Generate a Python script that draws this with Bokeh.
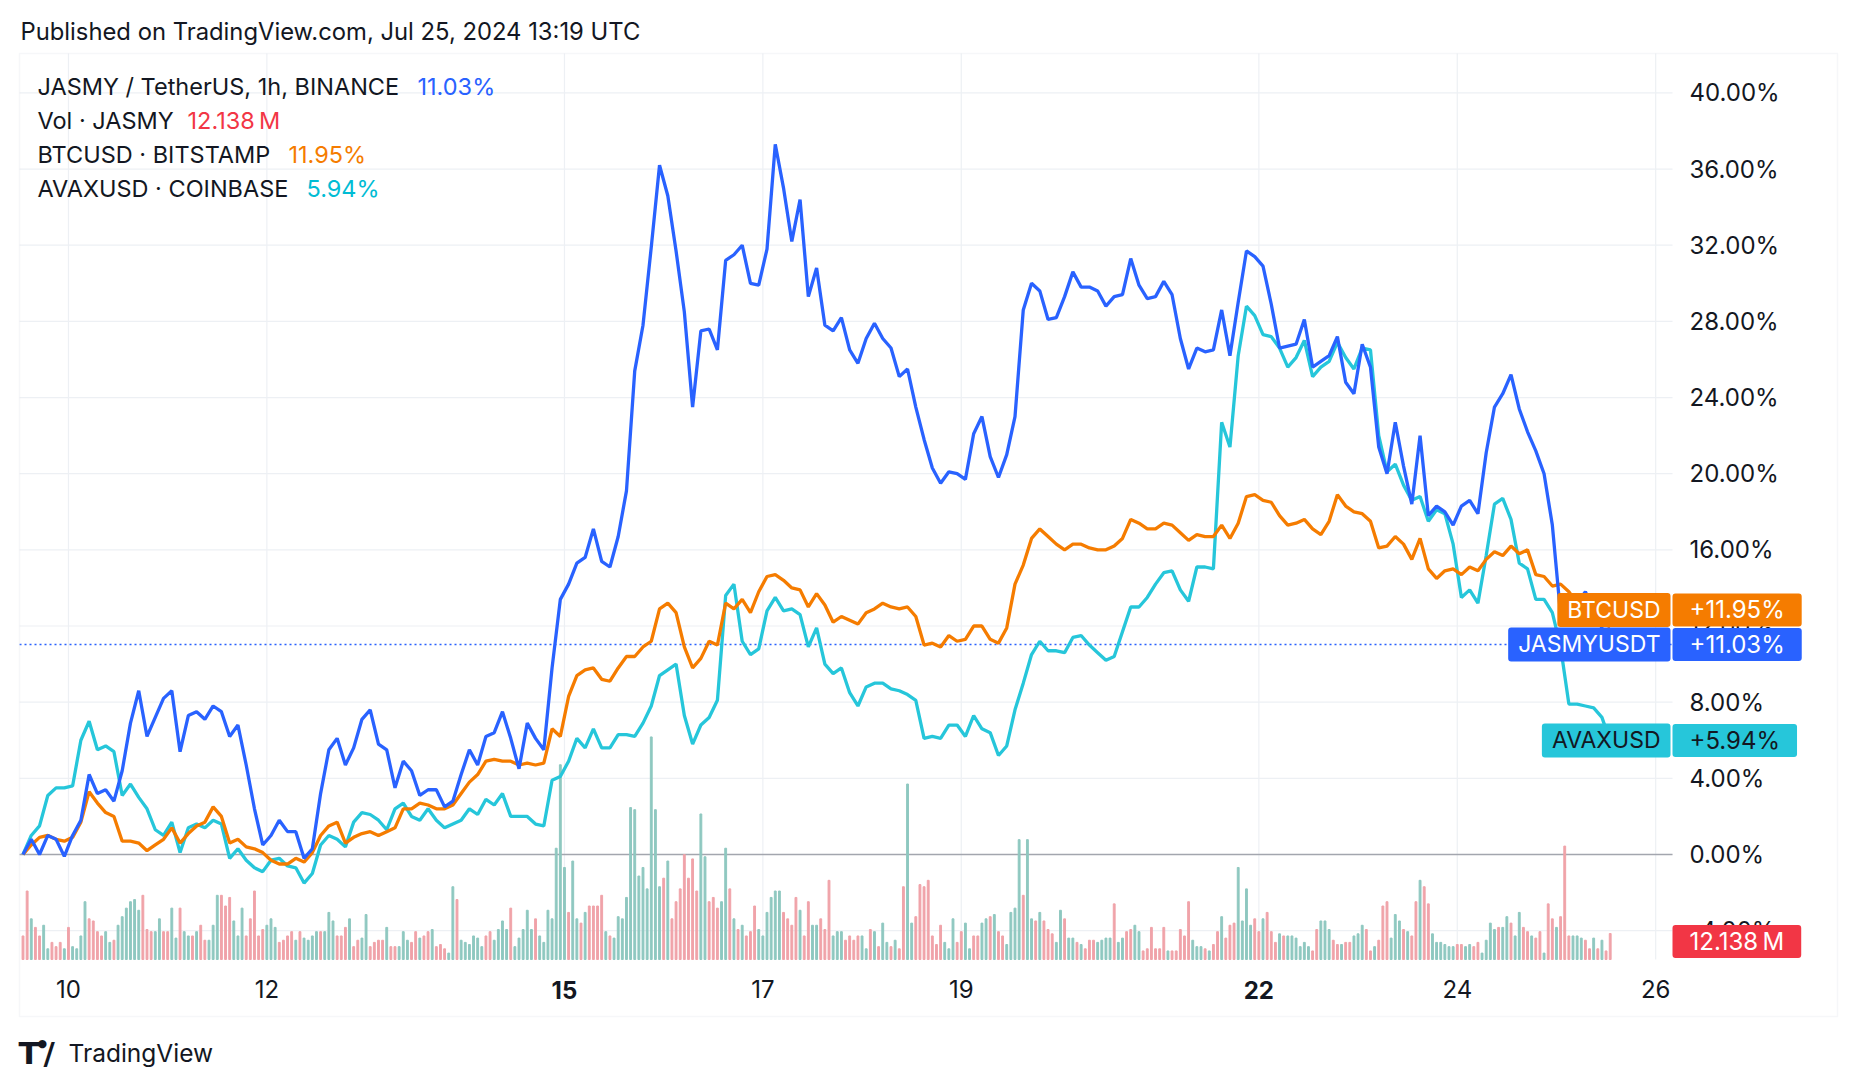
import pandas as pd
from bokeh.plotting import figure
from bokeh.models import (Range1d, FixedTicker, PrintfTickFormatter, Label, LinearAxis,
                          BoxAnnotation, CustomJSTickFormatter)
from bokeh.embed import file_html
from bokeh.resources import INLINE

# ---------------- data (percent change vs first bar, 2-hour samples from Jul 9 13:00 UTC) -------------
START = "2024-07-09 13:00"
jasmy = [0, 0.8, 0.0, 1.0, 0.8, -0.1, 1.0, 1.8, 4.2, 3.2, 3.4, 2.8, 4.4, 6.9, 8.6, 6.2, 7.2, 8.2, 8.6, 5.4,
         7.3, 7.5, 7.1, 7.8, 7.5, 6.2, 6.8, 4.7, 2.4, 0.5, 1.0, 1.8, 1.2, 1.2, -0.2, 0.3, 3.2, 5.5, 6.1, 4.7,
         5.6, 7.1, 7.6, 5.8, 5.5, 3.5, 4.9, 4.4, 3.1, 3.4, 3.4, 2.5, 2.8, 4.2, 5.5, 4.7, 6.2, 6.4, 7.5, 6.1,
         4.5, 6.9, 6.1, 5.5, 9.8, 13.4, 14.2, 15.3, 15.6, 17.1, 15.4, 15.1, 16.7, 19.1, 25.4, 27.8, 31.9, 36.2, 34.6, 31.7,
         28.5, 23.5, 27.5, 27.6, 26.5, 31.2, 31.5, 32.0, 30.0, 29.9, 31.8, 37.3, 35.0, 32.2, 34.4, 29.3, 30.8, 27.8, 27.5, 28.2,
         26.5, 25.8, 27.1, 27.9, 27.1, 26.6, 25.1, 25.5, 23.5, 21.8, 20.3, 19.5, 20.1, 20.0, 19.7, 22.1, 23.0, 20.9, 19.8, 21.0,
         23.0, 28.6, 30.0, 29.6, 28.1, 28.2, 29.3, 30.6, 29.8, 29.8, 29.6, 28.8, 29.3, 29.4, 31.3, 29.9, 29.2, 29.3, 30.1, 29.4,
         27.1, 25.5, 26.6, 26.4, 26.5, 28.6, 26.2, 29.0, 31.7, 31.4, 30.9, 28.9, 26.6, 26.7, 26.8, 28.1, 25.6, 25.9, 26.2, 27.2,
         24.8, 24.2, 26.8, 25.6, 21.4, 20.0, 22.7, 20.4, 18.4, 22.0, 17.8, 18.3, 18.0, 17.3, 18.3, 18.6, 17.9, 21.1, 23.5, 24.2,
         25.2, 23.4, 22.2, 21.2, 20.0, 17.3, 12.6, 12.5, 13.2, 13.8, 12.8, 11.9, 11.03]
btc = [0, 0.5, 0.9, 1.0, 0.8, 0.7, 0.9, 1.7, 3.3, 2.7, 2.2, 2.0, 0.7, 0.7, 0.6, 0.2, 0.5, 0.8, 1.4, 0.6,
       1.1, 1.5, 1.7, 2.5, 2.0, 0.6, 0.8, 0.4, 0.3, 0.1, -0.3, -0.5, -0.5, -0.2, -0.4, 0.1, 1.0, 1.5, 1.7, 0.6,
       0.9, 1.1, 1.2, 1.0, 1.2, 1.4, 2.4, 2.4, 2.7, 2.6, 2.4, 2.4, 2.6, 3.2, 3.8, 4.2, 4.9, 5.0, 4.9, 4.9,
       4.7, 4.8, 4.7, 4.8, 6.6, 6.2, 8.3, 9.4, 9.7, 9.8, 9.2, 9.1, 9.8, 10.4, 10.4, 10.9, 11.2, 12.9, 13.2, 12.7,
       10.9, 9.8, 10.3, 11.2, 11.0, 13.2, 12.9, 13.4, 12.7, 13.8, 14.6, 14.7, 14.4, 14.0, 13.9, 13.0, 13.7, 13.1, 12.2, 12.5,
       12.3, 12.1, 12.7, 12.9, 13.2, 13.0, 12.9, 13.0, 12.5, 11.0, 11.1, 10.9, 11.5, 11.2, 11.3, 12.0, 12.0, 11.3, 11.1, 11.9,
       14.2, 15.2, 16.6, 17.1, 16.7, 16.3, 16.0, 16.3, 16.3, 16.1, 16.0, 16.0, 16.2, 16.6, 17.6, 17.4, 17.1, 17.1, 17.4, 17.3,
       16.9, 16.5, 16.8, 16.7, 16.7, 17.3, 16.6, 17.4, 18.8, 18.9, 18.6, 18.5, 17.8, 17.3, 17.4, 17.6, 17.1, 16.8, 17.5, 18.9,
       18.3, 18.0, 17.9, 17.5, 16.1, 16.2, 16.7, 16.3, 15.5, 16.6, 15.0, 14.5, 14.9, 15.0, 14.7, 15.1, 14.9, 15.5, 15.9, 15.7,
       16.2, 15.8, 16.0, 14.7, 14.6, 14.1, 14.2, 13.8, 13.2, 12.8, 12.4, 12.2, 11.95]
avax = [0, 1.0, 1.5, 3.1, 3.5, 3.5, 3.6, 6.0, 7.0, 5.5, 5.7, 5.4, 3.1, 3.7, 3.0, 2.4, 1.3, 1.0, 1.7, 0.1,
        1.4, 1.6, 1.4, 1.8, 1.6, -0.2, 0.3, -0.3, -0.7, -0.9, -0.3, -0.2, -0.6, -0.7, -1.5, -1.0, 0.5, 1.0, 0.8, 0.4,
        1.7, 2.2, 2.1, 1.8, 1.3, 2.4, 2.7, 2.0, 1.8, 2.4, 1.8, 1.4, 1.6, 1.8, 2.4, 2.1, 2.9, 2.6, 3.2, 2.0,
        2.0, 2.0, 1.6, 1.5, 3.9, 4.1, 4.9, 6.1, 5.6, 6.6, 5.6, 5.6, 6.3, 6.3, 6.2, 6.9, 7.8, 9.4, 9.7, 10.0,
        7.3, 5.8, 6.8, 7.2, 8.1, 13.6, 14.2, 11.2, 10.5, 10.8, 12.8, 13.5, 12.8, 12.9, 12.6, 10.9, 11.9, 10.0, 9.5, 9.8,
        8.5, 7.8, 8.8, 9.0, 9.0, 8.7, 8.6, 8.4, 8.1, 6.1, 6.2, 6.1, 6.8, 6.8, 6.2, 7.3, 6.6, 6.4, 5.2, 5.7,
        7.6, 9.0, 10.5, 11.2, 10.7, 10.7, 10.6, 11.4, 11.5, 11.0, 10.6, 10.2, 10.4, 11.7, 13.0, 13.0, 13.5, 14.2, 14.8, 14.9,
        13.9, 13.3, 15.1, 15.1, 15.0, 22.7, 21.4, 26.2, 28.8, 28.3, 27.3, 27.2, 26.6, 25.6, 26.1, 27.0, 25.1, 25.6, 25.9, 26.9,
        26.1, 25.5, 26.6, 26.5, 22.0, 20.1, 20.5, 19.4, 18.6, 18.8, 17.5, 18.1, 17.9, 16.3, 13.5, 13.9, 13.2, 15.7, 18.4, 18.7,
        17.6, 15.3, 15.0, 13.4, 13.4, 12.7, 10.9, 7.9, 7.9, 7.8, 7.7, 7.2, 5.94]

# hourly JASMY volume (millions) and candle direction (u = up, d = down)
vol_a = [11, 32, 19, 15, 11, 16, 5, 8, 6, 8, 5, 15, 6, 5, 11, 27, 19, 18, 13, 11,
         13, 8, 9, 16, 20, 24, 27, 28, 23, 30, 14, 13, 13, 19, 13, 13, 24, 10, 24, 13,
         11, 11, 13, 16, 9, 9, 16, 30, 30, 25, 29, 18, 11, 24, 11, 19, 32, 11, 14, 16,
         19, 15, 8, 9, 11, 13, 9, 13, 10]
vol_b = [9, 11, 13, 13, 13, 22, 18, 11, 11, 15, 19, 6, 9, 10, 21, 6, 8, 9, 9, 15,
         6, 6, 6, 13, 9, 8, 13, 10, 11, 13, 14, 6, 7, 5, 3, 34, 28, 9, 8, 7,
         11, 10, 6, 11, 13, 9, 14, 18, 14, 24, 6, 10, 14, 23, 14, 19, 11, 8, 23, 19,
         52, 91, 43, 22, 46]
vol_c = [19, 17, 22, 25, 25, 25, 30, 13, 11, 10, 20, 19, 29, 71, 70, 39, 43, 33, 104, 70,
         34, 38, 46, 19, 27, 33, 49, 38, 47, 32, 68, 48, 27, 29, 24, 27, 52, 33, 19, 14,
         16, 11, 13, 25, 14, 11, 22, 29, 32, 32, 22, 19, 16, 29, 23, 11, 27, 16, 16, 19,
         14, 37, 11, 13, 13, 9, 11, 9, 11, 11]
vol_d = [5, 14, 13, 6, 17, 8, 6, 9, 5, 34, 82, 17, 20, 35, 34, 37, 11, 7, 16, 8,
         5, 19, 8, 13, 17, 5, 11, 11, 17, 19, 20, 21, 13, 11, 7, 22, 24, 56, 30, 56,
         19, 18, 22, 18, 14, 12, 8, 23, 19, 10, 10, 8, 7, 5, 9, 9, 8, 9, 10, 10,
         26, 8, 10, 13, 14, 16, 13]
vol_e = [4, 5, 15, 5, 5, 15, 4, 4, 4, 14, 11, 27, 9, 6, 6, 5, 4, 7, 13, 20,
         10, 16, 17, 43, 18, 33, 16, 19, 13, 19, 22, 13, 8, 12, 11, 11, 11, 10, 6, 8,
         6, 4, 14, 18, 18, 14, 9, 7, 7, 8, 8, 11, 12, 16, 14, 4, 6, 9, 25, 27,
         10, 21, 18, 14, 13, 11, 27]
vol_f = [37, 34, 26, 12, 8, 8, 7, 6, 6, 7, 7, 6, 7, 6, 8, 3, 9, 17, 14, 15,
         15, 20, 17, 11, 22, 15, 13, 11, 10, 13, 3, 26, 19, 15, 20, 53, 11, 11, 11, 10,
         9, 5, 10, 5, 9, 4, 12.138]
vol_dir = ("ddudduuddd" "uduuuudddd" "uuduuuuuud" "dduudduudu" "ududduuudd" "duuudddddu" "uuddddudu"
           "uuuduuuddd" "udduuddddu" "dduuuddudd" "uddduuduuu" "uuudduuuud" "uuuuuduuuu" "uuudu"
           "ududdddudu" "uuuuuuuuuu" "ududdddddd" "uuddduudud" "uddduuuuuu" "ddddudduud" "dduuuddddu"
           "ududuududd" "uudddddddu" "uudduudduu" "dudduuuudu" "ududdduudu" "ududdduuuu" "duudduu"
           "dddddduddd" "dduuududdu" "ddduuuuddu" "ddduduuuuu" "udduuuddud" "duuudduddd" "uuududd"
           "udduuuuuud" "duudduuuud" "uuduuddudd" "udduddduuu" "ddududd")
volume = vol_a + vol_b + vol_c + vol_d + vol_e + vol_f

day_ticks = ["2024-07-10", "2024-07-12", "2024-07-15", "2024-07-17",
             "2024-07-19", "2024-07-22", "2024-07-24", "2024-07-26"]
day_labels = ["10", "12", "15", "17", "19", "22", "24", "26"]
bold_days = ["15", "22"]
pct_ticks = [-4, 0, 4, 8, 12, 16, 20, 24, 28, 32, 36, 40]

# ---------------- styling / layout ----------------
BLUE, ORANGE, CYAN, RED = "#2962ff", "#f57c00", "#26c6da", "#f23645"
UP, DOWN = "#8fc8c0", "#f0a3a9"
TXT = "#131722"
GRID = "#edf0f4"
FONT = "Inter"

W, H = 1840, 1070
HOUR = 3600 * 1000.0
PX_PER_H = 99.2 / 24.0          # horizontal scale
X_H0 = 22.5                      # pixel of first bar
Y_ZERO, PX_PER_PCT = 854.0, 19.04
VOL_BASE, PX_PER_M = 959.0, 2.14
PLOT_L, PLOT_R, PLOT_T, PLOT_B = 19, 1672, 53, 959
BOX_R, BOX_B = 1837, 1016


def ms(ts):
    return pd.Timestamp(ts).value / 1e6


t0 = ms(START)


def x_at(px):
    return t0 + (px - X_H0) / PX_PER_H * HOUR


def v_at(py):
    return (Y_ZERO - py) / PX_PER_PCT


line_x = [t0 + 2 * HOUR * i for i in range(len(jasmy))]
vol_x = [t0 + HOUR * i for i in range(len(volume))]
vol_colors = [UP if c == "u" else DOWN for c in vol_dir]

p = figure(width=W, height=H, x_axis_location=None, y_axis_location=None,
           x_range=Range1d(x_at(0), x_at(W)), y_range=Range1d(v_at(H), v_at(0)),
           output_backend="svg", toolbar_location=None,
           min_border=0, min_border_left=0, min_border_right=0, min_border_top=0, min_border_bottom=0)
p.extra_y_ranges = {"vol": Range1d((VOL_BASE - H) / PX_PER_M, VOL_BASE / PX_PER_M)}
p.outline_line_color = None
p.background_fill_color = "white"
p.border_fill_color = "white"
p.xgrid.visible = False
p.ygrid.visible = False

# grid lines (only inside the price pane)
tick_ms = [ms(d) for d in day_ticks]
p.segment(x0=[x_at(PLOT_L)] * len(pct_ticks), x1=[x_at(PLOT_R)] * len(pct_ticks),
          y0=pct_ticks, y1=pct_ticks, line_color=GRID, line_width=1.2)
p.segment(x0=tick_ms, x1=tick_ms, y0=[v_at(PLOT_B)] * len(tick_ms), y1=[v_at(PLOT_T)] * len(tick_ms),
          line_color=GRID, line_width=1.2)

# axes drawn at fixed locations inside the canvas
xa = LinearAxis(fixed_location=v_at(PLOT_B), ticker=FixedTicker(ticks=tick_ms),
                formatter=CustomJSTickFormatter(
                    args=dict(tks=tick_ms, labs=["" if l in bold_days else l for l in day_labels]),
                    code="const i = tks.findIndex(t => Math.abs(t - tick) < 1000); return i >= 0 ? labs[i] : '';"))
ya = LinearAxis(fixed_location=x_at(1675), ticker=FixedTicker(ticks=pct_ticks),
                formatter=PrintfTickFormatter(format="%.2f%%"))
for ax in (xa, ya):
    ax.axis_line_color = None
    ax.major_tick_line_color = None
    ax.minor_tick_line_color = None
    ax.major_tick_out = 0
    ax.major_tick_in = 0
    ax.major_label_text_font = FONT
    ax.major_label_text_font_size = "24px"
    ax.major_label_text_color = TXT
xa.major_label_standoff = 20
ya.major_label_standoff = 14
p.add_layout(xa, "below")
p.add_layout(ya, "right")

# baseline and last-value dotted line
p.segment(x0=[x_at(PLOT_L)], x1=[x_at(PLOT_R)], y0=[0], y1=[0], line_color="#a3a6ae", line_width=1.6)
p.segment(x0=[x_at(PLOT_L)], x1=[x_at(PLOT_R)], y0=[jasmy[-1]], y1=[jasmy[-1]],
          line_color=BLUE, line_width=1.3, line_dash="2 3")

# volume
p.vbar(x=vol_x, top=volume, bottom=0, width=0.45 * HOUR, color=vol_colors, y_range_name="vol")

# series
p.line(line_x, avax, line_color=CYAN, line_width=3.3)
p.line(line_x, btc, line_color=ORANGE, line_width=3.3)
p.line(line_x, jasmy, line_color=BLUE, line_width=3.3)

# outer frame
p.add_layout(BoxAnnotation(left=PLOT_L, right=BOX_R, top=PLOT_T, bottom=BOX_B,
                           left_units="canvas", right_units="canvas",
                           top_units="canvas", bottom_units="canvas",
                           fill_alpha=0, line_color="#e0e3eb", line_width=1.5))


def txt(x, y, s, color=TXT, size="23.5px", align="left", style="normal", font=FONT, **kw):
    lab = Label(x=x, y=y, x_units="canvas", y_units="canvas", text=s, text_color=color,
                text_font=font, text_font_size=size, text_align=align, text_baseline="middle",
                text_font_style=style, **kw)
    p.add_layout(lab)
    return lab


# header / legend
txt(20, 31, "Published on TradingView.com, Jul 25, 2024 13:19 UTC", size="23.8px")
legend_rows = [("JASMY / TetherUS, 1h, BINANCE", "%.2f%%" % jasmy[-1], BLUE, 417),
               ("Vol \u00b7 JASMY", "12.138\u2009M", RED, 187),
               ("BTCUSD \u00b7 BITSTAMP", "%.2f%%" % btc[-1], ORANGE, 288),
               ("AVAXUSD \u00b7 COINBASE", "%.2f%%" % avax[-1], "#00bcd4", 306)]
for i, (name, val, col, vx) in enumerate(legend_rows):
    y = 86 + 34 * i
    txt(37, y, name)
    txt(vx, y, val, color=col)

# bold day labels
for d, l in zip(day_ticks, day_labels):
    if l in bold_days:
        p.add_layout(Label(x=ms(d), y=989, x_units="data", y_units="canvas", text=l,
                           text_font=FONT, text_font_size="24px", text_font_style="bold",
                           text_color=TXT, text_align="center", text_baseline="middle"))


# last value tags (box edges anchored at the pane border)
def tag(yval, yoff, name, val, bg, fg):
    common = dict(y=yval, y_units="data", y_offset=yoff, text_font=FONT,
                  text_baseline="middle", background_fill_color=bg, text_color=fg, border_radius=3)
    p.add_layout(Label(x=1670, x_units="canvas", text=name, text_align="right",
                       text_font_size="23px", padding=(10, 3), **common))
    p.add_layout(Label(x=1672, x_units="canvas", text=val, text_align="left",
                       text_font_size="24px", padding=(17, 2), **common))


tag(btc[-1], 17, "BTCUSD", "+%.2f%%" % btc[-1], ORANGE, "white")
tag(jasmy[-1], 0, "JASMYUSDT", "+%.2f%%" % jasmy[-1], BLUE, "white")
tag(avax[-1], 1, "AVAXUSD", "+%.2f%%" % avax[-1], CYAN, TXT)
p.add_layout(Label(x=1672, y=941, x_units="canvas", y_units="canvas", text="12.138\u2009M",
                   text_font=FONT, text_font_size="24px", text_baseline="middle",
                   background_fill_color=RED, text_color="white", padding=(17, 2), border_radius=3))

# footer logo
txt(18, 1052, "T", size="31px", style="bold", font="DejaVu Sans")
txt(37, 1043, "\u25cf", size="11px", font="DejaVu Sans")
txt(43, 1052, "/", size="31px", style="bold", font="DejaVu Sans")
txt(68, 1052, "TradingView", size="24.5px")

open("out.html", "w").write(file_html(p, INLINE))
